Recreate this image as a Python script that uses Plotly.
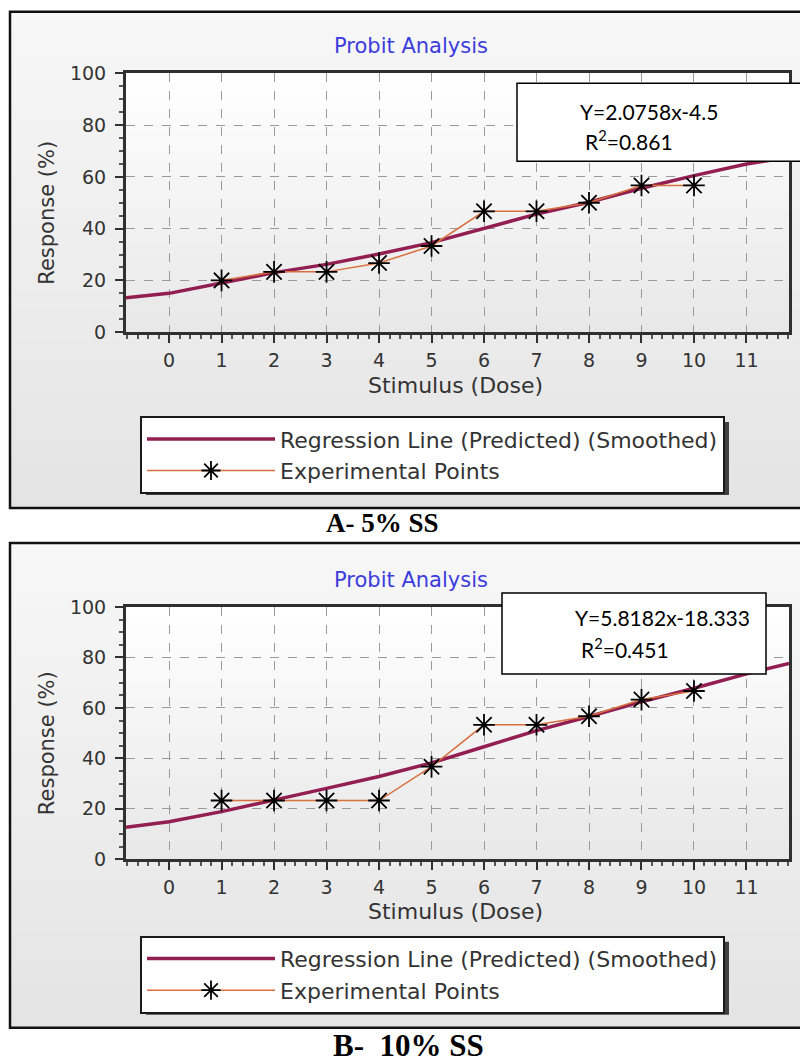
import plotly.graph_objects as go

W, H = 800, 1063

# ---------------- data ----------------
dose = [1, 2, 3, 4, 5, 6, 7, 8, 9, 10]
exp_a = [20.0, 23.3, 23.3, 26.7, 33.3, 46.7, 46.7, 50.0, 56.7, 56.7]
exp_b = [23.3, 23.3, 23.3, 23.3, 36.7, 53.3, 53.3, 56.7, 63.3, 66.7]

reg_x = [-0.82, 0, 1, 2, 3, 4, 5, 6, 7, 8, 9, 10, 11, 11.81]
reg_a = [13.3, 15.0, 19.0, 23.0, 26.2, 30.2, 34.6, 40.2, 45.6, 50.2, 55.6, 60.5, 65.0, 67.5]
reg_b = [12.7, 14.9, 18.9, 23.4, 28.1, 32.8, 38.2, 44.6, 51.0, 56.6, 62.4, 67.8, 73.5, 77.6]

x_tick_vals = [0, 1, 2, 3, 4, 5, 6, 7, 8, 9, 10, 11]
y_tick_vals = [0, 20, 40, 60, 80, 100]

title_text = "Probit Analysis"
x_title = "Stimulus (Dose)"
y_title = "Response (%)"
reg_name = "Regression Line (Predicted) (Smoothed)"
exp_name = "Experimental Points"
eq_a = ["Y=2.0758x-4.5", "R<sup>2</sup>=0.861"]
eq_b = ["Y=5.8182x-18.333", "R<sup>2</sup>=0.451"]
caption_a = "A- 5% SS"
caption_b = "B-\u00a0 10% SS"

# ---------------- style ----------------
REG = "#931F52"
EXP = "#D8703F"
AX = "#303030"
TICKFONT = dict(family="DejaVu Sans", size=19, color="#333333")


def px(x):
    return x / W


def py(y):
    # pixel row (from top of the photographed page) -> paper fraction
    yf = (y - 10.6) / 0.98
    yf = max(yf, 0.8)
    return 1 - yf / H


def lerp_col(c0, c1, t):
    return "rgb(%d,%d,%d)" % tuple(round(a + (b - a) * t) for a, b in zip(c0, c1))


panels = [
    dict(sfx="", top=73, bot=332, ptop=8, pbot=508, title_y=46, xt_y=385,
         leg_top=416, eq=eq_a, box=(517, 83, 802, 161), eq_y=(111.5, 140), eq_x=(578, 583),
         cap=caption_a, cap_y=523, cap_x=382, cap_size=27, ya=exp_a, yr=reg_a, leg="legend"),
    dict(sfx="2", top=607, bot=859.5, ptop=543, pbot=1028, title_y=580, xt_y=912,
         leg_top=936, eq=eq_b, box=(502, 593, 766, 674), eq_y=(618, 648), eq_x=(573, 579),
         cap=caption_b, cap_y=1046, cap_x=408, cap_size=31, ya=exp_b, yr=reg_b, leg="legend2"),
]

PL, PR = 126, 789
LEG_W, LEG_H = 584, 74

fig = go.Figure()
shapes = []
annotations = []
layout = dict(
    width=W, height=H, autosize=False,
    margin=dict(l=0, r=0, t=0, b=0),
    paper_bgcolor="white", plot_bgcolor="rgba(0,0,0,0)",
    showlegend=True,
)

for p in panels:
    s = p["sfx"]
    n = 30
    # panel background gradient
    for i in range(n):
        y0 = p["ptop"] + (p["pbot"] - p["ptop"]) * i / n
        y1 = p["ptop"] + (p["pbot"] - p["ptop"]) * (i + 1) / n
        shapes.append(dict(type="rect", xref="paper", yref="paper", layer="below",
                           x0=px(10), x1=px(805), y0=py(y0), y1=py(y1 + 0.5),
                           line=dict(width=0),
                           fillcolor=lerp_col((247, 247, 247), (228, 228, 228), i / (n - 1))))
    # plot area gradient
    for i in range(n):
        y0 = p["top"] + (p["bot"] - p["top"]) * i / n
        y1 = p["top"] + (p["bot"] - p["top"]) * (i + 1) / n
        shapes.append(dict(type="rect", xref="paper", yref="paper", layer="below",
                           x0=px(PL), x1=px(PR), y0=py(y0), y1=py(y1 + 0.5),
                           line=dict(width=0),
                           fillcolor=lerp_col((255, 255, 255), (232, 232, 232), i / (n - 1))))
    # panel border
    shapes.append(dict(type="rect", xref="paper", yref="paper", layer="below",
                       x0=px(10), x1=px(812), y0=py(p["ptop"]), y1=py(p["pbot"]),
                       line=dict(color="#111111", width=2.5), fillcolor="rgba(0,0,0,0)"))
    # legend shadow
    lt = p["leg_top"]
    shapes.append(dict(type="rect", xref="paper", yref="paper", layer="below",
                       x0=px(146), x1=px(140 + LEG_W + 5), y0=py(lt + 6), y1=py(lt + LEG_H + 5),
                       line=dict(width=0), fillcolor="rgba(35,35,35,0.85)"))
    # equation box
    bx0, by0, bx1, by1 = p["box"]
    shapes.append(dict(type="rect", xref="paper", yref="paper", layer="above",
                       x0=px(bx0), x1=px(bx1), y0=py(by0), y1=py(by1),
                       line=dict(color="black", width=1.5), fillcolor="white"))

    xa = "x" + s
    ya = "y" + s
    fig.add_trace(go.Scatter(x=reg_x, y=p["yr"], mode="lines", name=reg_name,
                             line=dict(color=REG, width=3.5), xaxis=xa, yaxis=ya,
                             legend=p["leg"]))
    fig.add_trace(go.Scatter(x=dose, y=p["ya"], mode="lines+markers", name=exp_name,
                             line=dict(color=EXP, width=1.5),
                             marker=dict(symbol="asterisk-open", size=18, color="black",
                                         line=dict(color="black", width=1.8)),
                             xaxis=xa, yaxis=ya, legend=p["leg"]))

    common = dict(showline=True, linecolor=AX, linewidth=3, mirror=True,
                  ticks="outside", ticklen=8, tickwidth=1.5, tickcolor=AX,
                  showgrid=True, gridcolor="#9a9a9a", griddash="dash", gridwidth=1,
                  zeroline=False, tickfont=TICKFONT, fixedrange=True)
    layout["xaxis" + s] = dict(domain=[px(PL), px(PR)], anchor=ya, range=[-0.82, 11.81],
                               tickmode="array", tickvals=x_tick_vals, ticklabelstandoff=1,
                               minor=dict(dtick=0.2, tick0=0, ticks="outside", ticklen=4,
                                          tickcolor="#555555", showgrid=False),
                               **common)
    layout["yaxis" + s] = dict(domain=[py(p["bot"]), py(p["top"])], anchor=xa, range=[0, 100],
                               tickmode="array", tickvals=y_tick_vals, ticklabelstandoff=5,
                               minor=dict(dtick=5, tick0=0, ticks="outside", ticklen=4,
                                          tickcolor="#555555", showgrid=False),
                               **common)
    layout[p["leg"]] = dict(x=px(140), y=py(lt), xanchor="left", yanchor="top",
                            bgcolor="white", bordercolor="#1a1a1a", borderwidth=2,
                            font=dict(family="DejaVu Sans", size=22, color="#333333"),
                            itemwidth=128, tracegroupgap=0, traceorder="normal")

    annotations.append(dict(text=title_text, xref="paper", yref="paper", x=px(411), y=py(p["title_y"]),
                            showarrow=False, xanchor="center", yanchor="middle",
                            font=dict(family="DejaVu Sans", size=21, color="#3c3cdc")))
    annotations.append(dict(text=x_title, xref="paper", yref="paper", x=px(456), y=py(p["xt_y"]),
                            showarrow=False, xanchor="center", yanchor="middle",
                            font=dict(family="DejaVu Sans", size=22, color="#333333")))
    annotations.append(dict(text=y_title, xref="paper", yref="paper", x=px(47),
                            y=py((p["top"] + p["bot"]) / 2 + 10), textangle=-90,
                            showarrow=False, xanchor="center", yanchor="middle",
                            font=dict(family="DejaVu Sans", size=21, color="#333333")))
    for k in range(2):
        annotations.append(dict(text=p["eq"][k], xref="paper", yref="paper",
                                x=px(p["eq_x"][k]), y=py(p["eq_y"][k]),
                                showarrow=False, xanchor="left", yanchor="middle",
                                font=dict(family="Lato", size=21, color="black")))
    annotations.append(dict(text="<b>" + p["cap"] + "</b>", xref="paper", yref="paper",
                            x=px(p["cap_x"]), y=py(p["cap_y"]),
                            showarrow=False, xanchor="center", yanchor="middle",
                            font=dict(family="Liberation Serif", size=p["cap_size"], color="black")))

layout["shapes"] = shapes
layout["annotations"] = annotations
fig.update_layout(**layout)
fig.write_html(
    "out.html",
    config={"displayModeBar": False},
    post_script=(
        "document.documentElement.style.margin='0';"
        "document.body.style.margin='0';"
    ),
)
